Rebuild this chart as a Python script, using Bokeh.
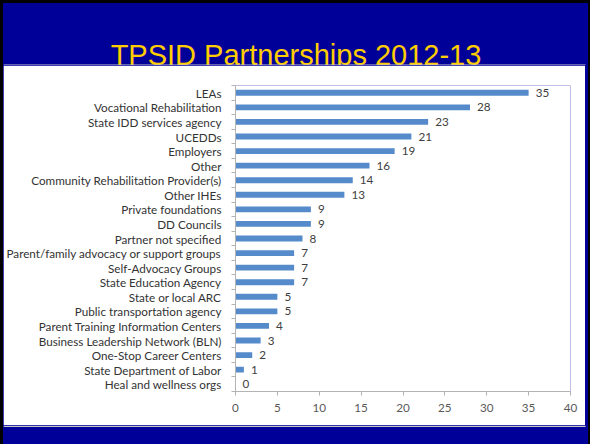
from bokeh.plotting import figure
from bokeh.layouts import column, row
from bokeh.models import Range1d, FixedTicker, ColumnDataSource, BoxAnnotation
from bokeh.core.properties import value
from bokeh.embed import file_html
from bokeh.resources import INLINE

title_text = "TPSID Partnerships 2012-13"
categories = [
    "LEAs", "Vocational Rehabilitation", "State IDD services agency", "UCEDDs",
    "Employers", "Other", "Community Rehabilitation Provider(s)", "Other IHEs",
    "Private foundations", "DD Councils", "Partner not specified",
    "Parent/family advocacy or support groups", "Self-Advocacy Groups",
    "State Education Agency", "State or local ARC", "Public transportation agency",
    "Parent Training Information Centers", "Business Leadership Network (BLN)",
    "One-Stop Career Centers", "State Department of Labor", "Heal and wellness orgs",
]
counts = [35, 28, 23, 21, 19, 16, 14, 13, 9, 9, 8, 7, 7, 7, 5, 5, 4, 3, 2, 1, 0]
x_ticks = [0, 5, 10, 15, 20, 25, 30, 35, 40]

BLUE = "#000099"
EDGE = "#C8C8C8"
W = 585
WM = 582
FL, FR = 228, 567  # frame left/right in figure pixels

n = len(categories)
pos = [i + 0.5 for i in range(n)]
src = ColumnDataSource(dict(y=pos, v=counts, lab=[str(c) for c in counts]))

# top title band (frame covers the whole band)
TH = 62
top = figure(width=W, height=TH, output_backend="svg", toolbar_location=None,
             x_range=Range1d(0, W), y_range=Range1d(TH, 0), min_border=0)
top.axis.visible = False
top.grid.visible = False
top.outline_line_color = None
top.background_fill_color = BLUE
top.border_fill_color = BLUE
top.text(x=[292.5], y=[51], text=[title_text], text_align="center", text_baseline="alphabetic",
         text_font=value("Liberation Sans"), text_font_size="29px", text_color="#FFCC00")
top.add_layout(BoxAnnotation(left=0, right=WM, top=TH - 1, bottom=TH, fill_color=EDGE,
                             fill_alpha=1, line_color=None))

# main chart
p = figure(width=WM, height=360, output_backend="svg", toolbar_location=None,
           x_range=Range1d(0, 40), y_range=Range1d(n, 0),
           min_border_left=FL, min_border_right=WM - FR, min_border_top=20, min_border_bottom=34)
p.background_fill_color = "white"
p.border_fill_color = "white"
p.outline_line_color = None
p.grid.visible = False

p.hbar(y="y", left=0, right="v", height=0.4, source=src, fill_color="#558ACB", line_color=None)
p.text(x="v", y="y", text="lab", source=src, x_offset=7, text_align="left", text_baseline="middle",
       text_font=value("Lato"), text_font_size="11.7px", text_color="#404040")

AX = "#B3B3B3"
xa = p.xaxis[0]
xa.ticker = FixedTicker(ticks=x_ticks)
xa.axis_line_color = AX
xa.major_tick_line_color = AX
xa.major_tick_out = 4
xa.major_tick_in = 0
xa.minor_tick_line_color = None
xa.major_label_text_font = "Lato"
xa.major_label_text_font_size = "11.7px"
xa.major_label_text_color = "#595959"
xa.major_label_standoff = 8

ya = p.yaxis[0]
ya.ticker = FixedTicker(ticks=pos, minor_ticks=list(range(n + 1)))
ya.major_label_overrides = {pp: c for pp, c in zip(pos, categories)}
ya.axis_line_color = AX
ya.major_tick_line_color = None
ya.major_tick_out = 0
ya.major_tick_in = 0
ya.minor_tick_line_color = AX
ya.minor_tick_out = 4
ya.minor_tick_in = 0
ya.major_label_text_font = "Lato"
ya.major_label_text_font_size = "11.7px"
ya.major_label_text_color = "#333333"
ya.major_label_standoff = 10

# bottom band
BH = 19
bot = figure(width=W, height=BH, output_backend="svg", toolbar_location=None,
             x_range=Range1d(0, W), y_range=Range1d(BH, 0), min_border=0)
bot.axis.visible = False
bot.grid.visible = False
bot.outline_line_color = None
bot.background_fill_color = BLUE
bot.border_fill_color = BLUE
bot.add_layout(BoxAnnotation(left=0, right=WM, top=0, bottom=1.5, fill_color=EDGE,
                             fill_alpha=1, line_color=None))

layout = column(row(top), p, row(bot), spacing=0)
layout.styles = {"border-left": "3px solid #000", "border-top": "3px solid #000",
                 "border-right": "2px solid #000", "background-color": BLUE}
open("out.html", "w").write(file_html(layout, INLINE))
